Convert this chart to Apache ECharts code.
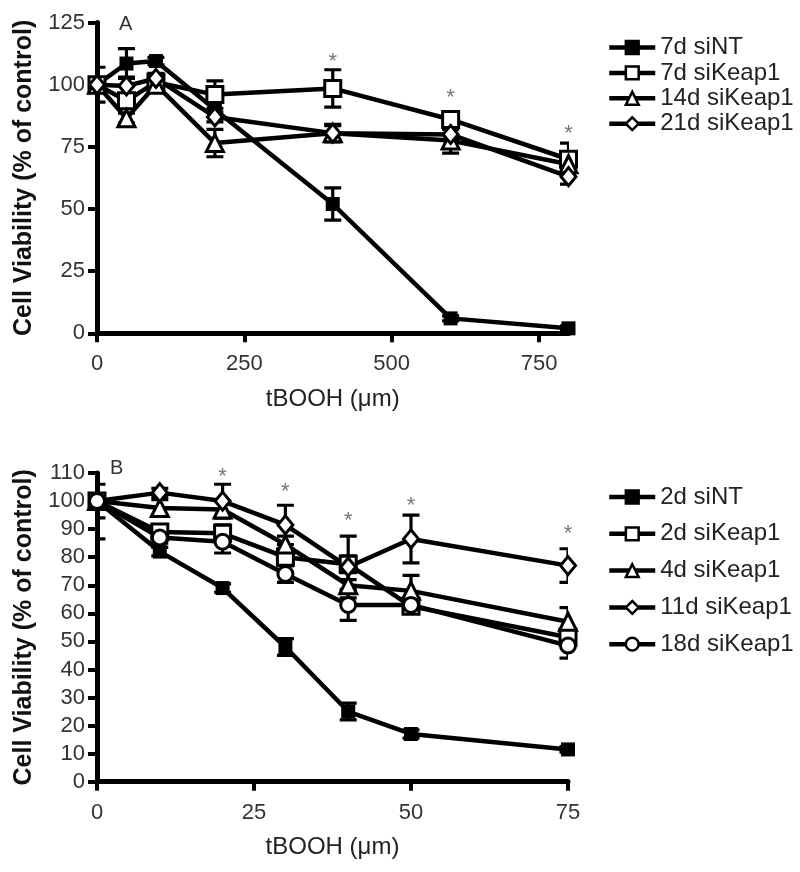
<!DOCTYPE html>
<html><head><meta charset="utf-8">
<script src="https://cdn.jsdelivr.net/npm/echarts@6/dist/echarts.min.js"></script>
<style>html,body{margin:0;padding:0;background:#fff}#c{width:800px;height:872px}</style>
</head><body><div id="c"></div>
<script>
// ---------- Panel A ----------
const xA = [0, 50, 100, 200, 400, 600, 800];
const a_7d_siNT    = [100, 108.5, 109.5, 90, 52, 6, 2];
const a_7d_siKeap1 = [100, 93.5, 101, 96, 98.5, 86, 70];
const a_14d_siKeap1 = [100, 86.5, 100, 76.5, 80.5, 77.5, 68];
const a_21d_siKeap1 = [100, 99.5, 102.5, 87, 80.5, 80, 63];
const errA_7d_siNT    = [7, 6, 1.5, 0, 6.5, 1, 1];
const errA_7d_siKeap1 = [0, 3, 0, 5.5, 7.5, 2, 6.5];
const errA_14d_siKeap1 = [0, 2, 0, 5.5, 3.5, 5, 3];
const errA_21d_siKeap1 = [0, 3.5, 2, 2, 3, 2, 3];
const starA_x = [400, 600, 800];
const starA_y = [111, 96.5, 82];
const xTicksA = [0, 250, 500, 750];

// ---------- Panel B ----------
const xB = [0, 10, 20, 30, 40, 50, 75];
const b_2d_siNT    = [100, 82, 69, 48, 25, 17, 11.5];
const b_2d_siKeap1 = [100, 89, 88.5, 80, 77.5, 62.5, 51.5];
const b_4d_siKeap1 = [100, 97.5, 97, 84.5, 70, 68, 57];
const b_11d_siKeap1 = [100, 103, 100, 91.5, 76.5, 86.5, 77];
const b_18d_siKeap1 = [100, 87, 85.5, 74, 63, 63, 48.5];
const errB_2d_siNT    = [6, 1.5, 1.5, 3, 3, 1.5, 1];
const errB_2d_siKeap1 = [13.5, 2, 3, 3, 3, 2, 2];
const errB_4d_siKeap1 = [0, 3, 3, 3, 2, 5.5, 5];
const errB_11d_siKeap1 = [0, 1.5, 6, 7, 11, 8.5, 6];
const errB_18d_siKeap1 = [0, 2, 4, 3, 5.5, 2, 4.5];
const starB_x = [20, 30, 40, 50, 75];
const starB_y = [110.4, 105, 94.7, 100, 90];
const xTicksB = [0, 25, 50, 75];

const FONT = 'Liberation Sans';

function lineSeries(name, xs, ys, sym, filled, g, size) {
  return {
    type: 'line', name: name, xAxisIndex: g, yAxisIndex: g,
    data: xs.map((x, i) => [x, ys[i]]),
    symbol: sym, symbolSize: size, showSymbol: true, showAllSymbol: true,
    lineStyle: { color: '#000', width: 4.5 },
    itemStyle: { color: filled ? '#000' : '#fff', borderColor: '#000', borderWidth: filled ? 0 : 3 },
    emphasis: { disabled: true }, z: 3, clip: false, animation: false
  };
}
function errSeries(xs, ys, es, g) {
  const data = [];
  xs.forEach((x, i) => { if (es[i] > 0) data.push([x, ys[i] - es[i], ys[i] + es[i]]); });
  return {
    type: 'custom', xAxisIndex: g, yAxisIndex: g, data: data, z: 2, clip: true,
    silent: true, animation: false,
    renderItem: function (params, api) {
      const x = api.value(0);
      const p1 = api.coord([x, api.value(2)]);
      const p2 = api.coord([x, api.value(1)]);
      const w = 8.5;
      const st = { stroke: '#000', lineWidth: 3.2 };
      return { type: 'group', children: [
        { type: 'line', shape: { x1: p1[0], y1: p1[1], x2: p2[0], y2: p2[1] }, style: st },
        { type: 'line', shape: { x1: p1[0] - w, y1: p1[1], x2: p1[0] + w, y2: p1[1] }, style: st },
        { type: 'line', shape: { x1: p2[0] - w, y1: p2[1], x2: p2[0] + w, y2: p2[1] }, style: st }
      ]};
    }
  };
}
function starSeries(xs, ys, g) {
  return {
    type: 'scatter', xAxisIndex: g, yAxisIndex: g, clip: false, silent: true,
    data: xs.map((x, i) => [x, ys[i]]), symbolSize: 1,
    itemStyle: { color: 'rgba(0,0,0,0)' },
    label: { show: true, position: 'inside', formatter: '*', fontSize: 22, color: '#555', fontFamily: FONT, offset: [0, 5] },
    animation: false
  };
}
const axisCommon = {
  axisLine: { show: true, onZero: false, lineStyle: { color: '#000', width: 5 } },
  axisTick: { show: true, length: 9, lineStyle: { color: '#000', width: 4 } },
  splitLine: { show: false }
};
function xAxis(g, max, interval, ticks) {
  return Object.assign({}, axisCommon, {
    type: 'value', gridIndex: g, min: 0, max: max, interval: interval,
    name: 'tBOOH (\u03bcm)', nameLocation: 'middle', nameGap: 54,
    nameTextStyle: { fontSize: 24, color: '#222', fontFamily: FONT },
    axisTick: Object.assign({}, axisCommon.axisTick, { customValues: ticks }),
    axisLabel: { fontSize: 22, color: '#333', fontFamily: FONT, margin: 20, customValues: ticks }
  });
}
function yAxis(g, max, interval) {
  return Object.assign({}, axisCommon, {
    type: 'value', gridIndex: g, min: 0, max: max, interval: interval,
    name: 'Cell Viability (% of control)', nameLocation: 'middle', nameGap: 60,
    nameTextStyle: { fontSize: 25, fontWeight: 'bold', color: '#111', fontFamily: FONT },
    axisLabel: { fontSize: 22, color: '#333', fontFamily: FONT, margin: 12 }
  });
}
const legendCommon = {
  orient: 'vertical', itemWidth: 46, itemHeight: 16, selectedMode: false,
  textStyle: { fontSize: 24, lineHeight: 25, color: '#222', fontFamily: FONT },
  lineStyle: { width: 4.5, color: '#000' },
  itemStyle: { borderWidth: 2.5, borderColor: '#000' }
};

const chart = echarts.init(document.getElementById('c'), null, { renderer: 'canvas' });
chart.setOption({
  backgroundColor: '#fff',
  animation: false,
  title: [
    { text: 'A', left: 114, top: 9, textStyle: { fontSize: 20, fontWeight: 'normal', color: '#333', fontFamily: FONT } },
    { text: 'B', left: 105, top: 453, textStyle: { fontSize: 20, fontWeight: 'normal', color: '#333', fontFamily: FONT } }
  ],
  grid: [
    { left: 97, top: 22.5, width: 471.5, height: 310.8 },
    { left: 97, top: 473, width: 471, height: 308.7 }
  ],
  xAxis: [xAxis(0, 800, 250, xTicksA), xAxis(1, 75, 25, xTicksB)],
  yAxis: [yAxis(0, 125, 25), yAxis(1, 110, 10)],
  legend: [
    Object.assign({}, legendCommon, { left: 602, top: 30, itemGap: 0.4,
      data: ['7d siNT', '7d siKeap1', '14d siKeap1', '21d siKeap1'] }),
    Object.assign({}, legendCommon, { left: 602, top: 479.5, itemGap: 11.8,
      data: ['2d siNT', '2d siKeap1', '4d siKeap1', '11d siKeap1', '18d siKeap1'] })
  ],
  series: [
    errSeries(xA, a_7d_siNT, errA_7d_siNT, 0),
    errSeries(xA, a_7d_siKeap1, errA_7d_siKeap1, 0),
    errSeries(xA, a_14d_siKeap1, errA_14d_siKeap1, 0),
    errSeries(xA, a_21d_siKeap1, errA_21d_siKeap1, 0),
    lineSeries('7d siNT', xA, a_7d_siNT, 'rect', true, 0, 14),
    lineSeries('7d siKeap1', xA, a_7d_siKeap1, 'rect', false, 0, 16),
    lineSeries('14d siKeap1', xA, a_14d_siKeap1, 'triangle', false, 0, 17),
    lineSeries('21d siKeap1', xA, a_21d_siKeap1, 'diamond', false, 0, [15, 18]),
    starSeries(starA_x, starA_y, 0),

    errSeries(xB, b_2d_siNT, errB_2d_siNT, 1),
    errSeries(xB, b_2d_siKeap1, errB_2d_siKeap1, 1),
    errSeries(xB, b_4d_siKeap1, errB_4d_siKeap1, 1),
    errSeries(xB, b_11d_siKeap1, errB_11d_siKeap1, 1),
    errSeries(xB, b_18d_siKeap1, errB_18d_siKeap1, 1),
    lineSeries('2d siNT', xB, b_2d_siNT, 'rect', true, 1, 14),
    lineSeries('2d siKeap1', xB, b_2d_siKeap1, 'rect', false, 1, 16),
    lineSeries('4d siKeap1', xB, b_4d_siKeap1, 'triangle', false, 1, 17),
    lineSeries('11d siKeap1', xB, b_11d_siKeap1, 'diamond', false, 1, [15, 18]),
    lineSeries('18d siKeap1', xB, b_18d_siKeap1, 'circle', false, 1, 15),
    starSeries(starB_x, starB_y, 1)
  ]
});
</script></body></html>
